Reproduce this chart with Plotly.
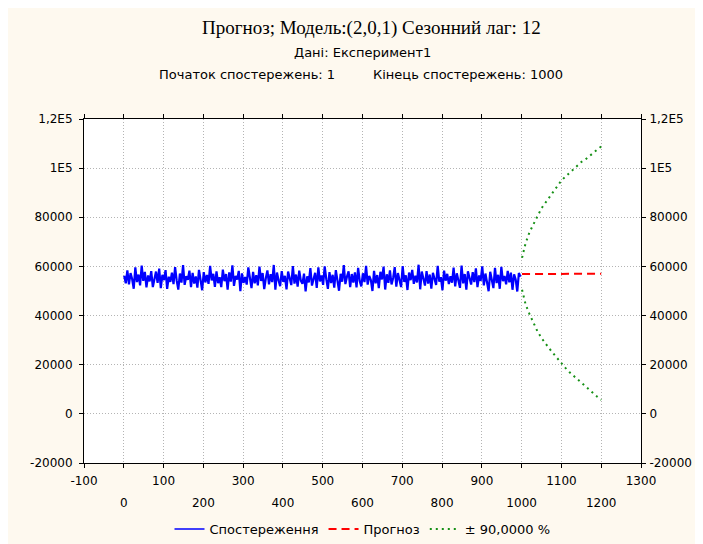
import plotly.graph_objects as go

# ---------------- data ----------------
obs_step = 4
observations = [
    56200, 53100, 58400, 52700, 57300, 54900, 50900, 59600, 53600, 56700,
    52300, 60300, 54100, 57800, 51500, 56300, 53900, 58100, 51600, 55400,
    57900, 53300, 59100, 51200, 56600, 54400, 58500, 50900, 55800, 53700,
    57500, 52800, 59700, 54200, 50600, 57100, 53400, 60500, 52500, 56000,
    54600, 58300, 51600, 57400, 53000, 55900, 51400, 58600, 54800, 50300,
    57700, 53500, 56500, 52900, 60200, 54300, 57000, 51700, 58000, 53200,
    55600, 51600, 58700, 54000, 56900, 50600, 57600, 53800, 60400, 52100,
    56100, 54700, 58200, 49900, 57200, 53300, 55700, 52600, 59600, 54500,
    51200, 57800, 53100, 56400, 52300, 59900, 54100, 57300, 50800, 55200,
    58400, 52700, 56800, 53600, 60600, 50500, 57500, 54400, 52000, 58100,
    53700, 56200, 50700, 57900, 54600, 52400, 60100, 53000, 56700, 51800,
    58300, 54200, 52900, 57100, 49800, 56000, 53500, 59300, 52200, 55500,
    57400, 51300, 59600, 53900, 56300, 52500, 60000, 54800, 50900, 57700,
    53200, 56600, 51400, 58500, 54300, 50100, 57000, 53800, 60500, 52800,
    55900, 58000, 51600, 56900, 53400, 57600, 51500, 59400, 54100, 51900,
    57200, 53600, 60200, 52600, 56100, 54500, 50000, 58200, 53100, 56500,
    51200, 57800, 54700, 59900, 50600, 56800, 53300, 58400, 52700, 55300,
    59700, 51800, 57300, 54000, 51600, 60100, 53700, 56400, 50400, 57500,
    54400, 58600, 52900, 56200, 53500, 60700, 50700, 57900, 54900, 52200,
    58100, 53000, 56700, 51000, 57400, 54600, 52500, 60200, 53800, 55600,
    50300, 58300, 54200, 57000, 52800, 56000, 53400, 59500, 51900, 57200,
    54300, 51300, 60300, 53100, 56900, 50600, 58000, 54800, 52600, 57700,
    53600, 59200, 51600, 56300, 54100, 60000, 52300, 57100, 53900, 49900,
    57800, 54500, 51200, 59400, 53200, 56600, 50900, 59800, 54000, 56100,
    52700, 58200, 53500, 57500, 50500, 56800, 54700, 49800, 57300, 55800,
]
obs_t = list(range(1, 1 + obs_step * len(observations), obs_step))

forecast_t = [1001, 1050, 1100, 1150, 1200]
forecast = [56900, 57000, 57000, 57000, 57000]

band_t = [1001, 1005, 1010, 1020, 1030, 1040, 1050, 1060, 1070, 1080, 1090,
          1100, 1110, 1120, 1130, 1140, 1150, 1160, 1170, 1180, 1190, 1200]
band_upper = [63500, 66500, 69500, 74000, 77500, 80500, 83700, 86000, 88200,
              90200, 92800, 95000, 96500, 98000, 99500, 101000, 102500,
              103500, 105000, 106200, 107500, 108800]
band_lower = [50500, 47500, 44500, 40500, 37000, 33500, 30800, 28500, 26500,
              24500, 22500, 20500, 18700, 17000, 15500, 14000, 12500, 11000,
              9800, 8400, 7000, 5700]

y_ticks = [-20000, 0, 20000, 40000, 60000, 80000, 100000, 120000]
y_labels = ["-20000", "0", "20000", "40000", "60000", "80000", "1E5", "1,2E5"]
x_ticks_odd = [-100, 100, 300, 500, 700, 900, 1100, 1300]
x_ticks_even = [0, 200, 400, 600, 800, 1000, 1200]

title_main = "Прогноз; Модель:(2,0,1) Сезонний лаг: 12"
subtitle_data = "Дані: Експеримент1"
subtitle_start = "Початок спостережень: 1"
subtitle_end = "Кінець спостережень: 1000"

# ---------------- figure ----------------
FONT = "DejaVu Sans, Liberation Sans, sans-serif"
SERIF = "Liberation Serif, Times New Roman, serif"
# target plot rectangle on screen (page has an 8px body offset)
PL, PR, PT, PB = 84, 641, 119, 463
OFF = 8
PW, PH = PR - PL, PB - PT

fig = go.Figure()

fig.add_trace(go.Scatter(
    x=obs_t, y=observations, mode="lines", name="Спостереження",
    line=dict(color="#0000FF", width=2.2), showlegend=False,
))
# legend entry for observations with a thin line sample
fig.add_trace(go.Scatter(
    x=[None], y=[None], mode="lines", name="Спостереження",
    line=dict(color="#0000FF", width=1.5), hoverinfo="skip",
))
fig.add_trace(go.Scatter(
    x=forecast_t, y=forecast, mode="lines", name="Прогноз",
    line=dict(color="#FF0000", width=2, dash="8px,5px"),
))
fig.add_trace(go.Scatter(
    x=band_t, y=band_upper, mode="lines", name="± 90,0000 %",
    line=dict(color="#169016", width=2, dash="2px,4px"),
    legendgroup="band",
))
fig.add_trace(go.Scatter(
    x=band_t, y=band_lower, mode="lines", name="± 90,0000 %",
    line=dict(color="#169016", width=2, dash="2px,4px"),
    legendgroup="band", showlegend=False,
))
# invisible trace to activate secondary axes
fig.add_trace(go.Scatter(x=[None], y=[None], xaxis="x2", yaxis="y2",
                         showlegend=False, hoverinfo="skip"))

grid = dict(showgrid=True, gridcolor="#B4B4B4", gridwidth=1,
            griddash="1px,2px")
tickfont = dict(family=FONT, size=12, color="black")

fig.update_layout(
    width=703, height=544,
    paper_bgcolor="#FEF9EF", plot_bgcolor="white",
    margin=dict(l=PL - OFF, r=703 - (PR - OFF), t=PT - OFF,
                b=544 - (PB - OFF), autoexpand=False),
    font=dict(family=FONT, size=12, color="black"),
    showlegend=True,
    legend=dict(orientation="h", x=0.5, xanchor="center",
                y=-(514 - PB) / PH, yanchor="top", bgcolor="rgba(0,0,0,0)",
                font=dict(family=FONT, size=13, color="black"),
                itemwidth=30, tracegroupgap=0),
    xaxis=dict(range=[-100, 1300], tickmode="array", tickvals=x_ticks_odd,
               ticktext=[str(v) for v in x_ticks_odd],
               ticks="outside", ticklen=4, tickcolor="black",
               ticklabelstandoff=3,
               showline=True, linecolor="black", linewidth=1, mirror="ticks",
               zeroline=False, tickfont=tickfont, automargin=False, **grid),
    xaxis2=dict(range=[-100, 1300], overlaying="x", anchor="y", side="bottom",
                tickmode="array", tickvals=x_ticks_even,
                ticktext=[str(v) for v in x_ticks_even],
                ticks="outside", ticklen=4, tickcolor="black",
                ticklabelstandoff=25, showline=False, mirror="ticks",
                zeroline=False, tickfont=tickfont, automargin=False, **grid),
    yaxis=dict(range=[-20000, 120000], tickmode="array", tickvals=y_ticks,
               ticktext=y_labels, ticks="outside", ticklen=4,
               tickcolor="black", showline=True, linecolor="black",
               linewidth=1, mirror=True, zeroline=False, tickfont=tickfont,
               ticklabelstandoff=4, automargin=False, **grid),
    yaxis2=dict(range=[-20000, 120000], overlaying="y", anchor="x",
                side="right", tickmode="array", tickvals=y_ticks,
                ticktext=y_labels, ticks="outside", ticklen=4,
                tickcolor="black", showline=False, showgrid=False,
                zeroline=False, tickfont=tickfont, ticklabelstandoff=1,
                automargin=False),
)


def px_x(sx):
    return (sx - PL) / PW


def px_y(sy):
    return (PB - sy) / PH


ann_font = dict(family=FONT, size=13, color="black")
fig.add_annotation(text=title_main, xref="paper", yref="paper",
                   x=px_x(371), y=px_y(28), showarrow=False,
                   xanchor="center", yanchor="middle",
                   font=dict(family=SERIF, size=19, color="black"))
fig.add_annotation(text=subtitle_data, xref="paper", yref="paper",
                   x=px_x(362), y=px_y(52), showarrow=False,
                   xanchor="center", yanchor="middle", font=ann_font)
fig.add_annotation(text=subtitle_start, xref="paper", yref="paper",
                   x=px_x(337), y=px_y(74), showarrow=False,
                   xanchor="right", yanchor="middle", font=ann_font)
fig.add_annotation(text=subtitle_end, xref="paper", yref="paper",
                   x=px_x(371), y=px_y(74), showarrow=False,
                   xanchor="left", yanchor="middle", font=ann_font)

fig.write_html("out.html")
